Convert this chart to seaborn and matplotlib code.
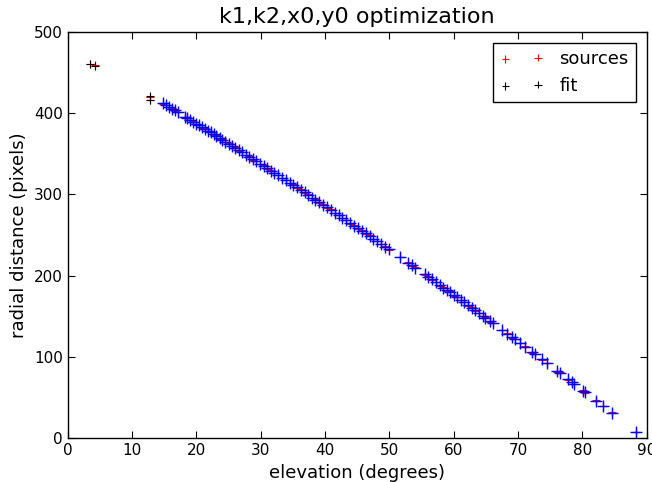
import matplotlib
matplotlib.use("Agg")
import matplotlib.pyplot as plt
import seaborn as sns

# values
elevation = [14.8, 15.3, 15.7, 16.2, 16.6, 17.1, 18.2, 18.6, 19.0, 19.5,
             20.0, 20.4, 20.9, 21.3, 21.8, 22.2, 22.7, 23.1, 23.6, 24.0,
             24.5, 25.0, 25.5, 26.0, 26.6, 27.1, 27.7, 28.2, 28.8, 29.3,
             29.9, 30.5, 31.0, 31.6, 32.1, 32.7, 33.3, 33.9, 34.5, 35.0,
             35.6, 36.2, 36.8, 37.4, 38.0, 38.5, 39.1, 39.7, 40.3, 40.9,
             41.5, 42.1, 42.7, 43.3, 43.9, 44.5, 45.1, 45.7, 46.3, 46.9,
             47.5, 48.1, 48.7, 49.3, 49.9, 51.6, 52.9, 53.5, 54.0, 55.5,
             56.0, 56.6, 57.2, 57.9, 58.4, 59.0, 59.4, 60.0, 60.5, 61.1,
             61.6, 62.2, 62.8, 63.3, 63.9, 64.5, 64.9, 65.6, 66.1, 67.5,
             68.3, 69.1, 69.5, 70.3, 71.1, 72.2, 72.6, 73.7, 74.5, 76.1,
             76.5, 77.8, 78.4, 78.7, 80.1, 80.4, 82.1, 83.2, 84.6, 88.3]

radial_fit = [412.0, 409.6, 407.7, 405.3, 403.4, 401.0, 395.7, 393.7, 391.8, 389.4,
              386.9, 385.0, 382.5, 380.6, 378.1, 376.2, 373.7, 371.7, 369.3, 367.3,
              364.8, 362.3, 359.8, 357.3, 354.3, 351.8, 348.8, 346.3, 343.3, 340.8,
              337.7, 334.7, 332.1, 329.1, 326.5, 323.5, 320.4, 317.3, 314.2, 311.6,
              308.5, 305.4, 302.3, 299.2, 296.0, 293.4, 290.3, 287.1, 284.0, 280.8,
              277.6, 274.4, 271.2, 268.0, 264.8, 261.6, 258.4, 255.2, 252.0, 248.7,
              245.5, 242.2, 239.0, 235.7, 232.4, 223.1, 215.9, 212.6, 209.9, 201.5,
              198.7, 195.4, 192.0, 188.1, 185.3, 181.9, 179.7, 176.3, 173.4, 170.0,
              167.2, 163.7, 160.3, 157.5, 154.0, 150.6, 148.3, 144.2, 141.4, 133.2,
              128.6, 123.9, 121.6, 116.9, 112.2, 105.7, 103.4, 96.8, 92.1, 82.5,
              80.2, 72.4, 68.7, 66.9, 58.5, 56.7, 46.3, 39.6, 31.1, 7.0]

radial_src = [411.0, 410.5, 407.0, 406.0, 402.5, 401.5, 395.0, 394.5, 391.0, 390.0,
              386.0, 385.5, 382.0, 381.5, 377.5, 376.8, 373.0, 372.5, 368.5, 368.0,
              364.0, 363.0, 359.0, 358.0, 353.5, 352.5, 348.0, 347.0, 342.5, 341.5,
              337.0, 335.5, 331.5, 330.0, 326.0, 324.0, 319.5, 318.0, 313.5, 312.5,
              308.0, 306.0, 301.5, 300.0, 295.5, 294.0, 289.5, 288.0, 283.5, 281.5,
              277.0, 275.0, 270.5, 268.5, 264.0, 262.5, 257.5, 256.0, 251.5, 249.5,
              245.0, 243.0, 238.5, 236.5, 231.5, 222.5, 216.5, 212.0, 210.5, 201.0,
              199.5, 195.0, 192.5, 187.5, 186.0, 181.5, 180.5, 175.5, 174.0, 169.5,
              168.0, 163.0, 161.0, 157.0, 154.5, 150.0, 149.0, 143.5, 142.0, 132.5,
              129.5, 123.5, 122.5, 116.5, 113.0, 105.0, 104.0, 96.0, 93.0, 82.0,
              81.0, 72.0, 69.5, 66.5, 59.5, 56.0, 47.0, 39.0, 32.0, 7.5]

# points with no optimised counterpart (upper left)
outlier_elev = [3.5, 4.3, 12.8, 12.8]
outlier_src = [460.0, 459.0, 420.0, 416.0]
outlier_fit = [460.5, 458.5, 421.0, 415.5]

sns.set_style("ticks", {"xtick.direction": "in", "ytick.direction": "in",
                        "text.color": "black", "axes.labelcolor": "black",
                        "xtick.color": "black", "ytick.color": "black"})
plt.rcParams["font.family"] = ["DejaVu Sans"]

fig, ax = plt.subplots(figsize=(6.52, 4.82), dpi=100)
fig.subplots_adjust(left=0.104, right=0.992, bottom=0.091, top=0.934)

sns.scatterplot(x=outlier_elev + elevation, y=outlier_src + radial_src, marker="+",
                s=30, color="red", linewidth=0.8, label="sources", ax=ax)
sns.scatterplot(x=outlier_elev + elevation, y=outlier_fit + radial_fit, marker="+",
                s=30, color="black", linewidth=0.8, label="fit", ax=ax)
sns.scatterplot(x=elevation, y=radial_fit, marker="+", s=70, color="blue",
                linewidth=1.0, ax=ax)

ax.set_xlim(0, 90)
ax.set_ylim(0, 500)
ax.set_xticks(range(0, 91, 10))
ax.set_yticks(range(0, 501, 100))
ax.tick_params(top=True, right=True, labelsize=11, length=5, width=0.8)
for sp in ax.spines.values():
    sp.set_visible(True)
    sp.set_color("black")
    sp.set_linewidth(1.0)

ax.set_title("k1,k2,x0,y0 optimization", fontsize=16, color="black")
ax.set_xlabel("elevation (degrees)", fontsize=13)
ax.set_ylabel("radial distance (pixels)", fontsize=13)

leg = ax.legend(loc="upper right", scatterpoints=2, fontsize=13, fancybox=False,
                framealpha=1, edgecolor="black", borderaxespad=0.6,
                handlelength=2.4, handletextpad=0.9)
leg.get_frame().set_linewidth(1.0)

fig.savefig("out.png", dpi=100)
